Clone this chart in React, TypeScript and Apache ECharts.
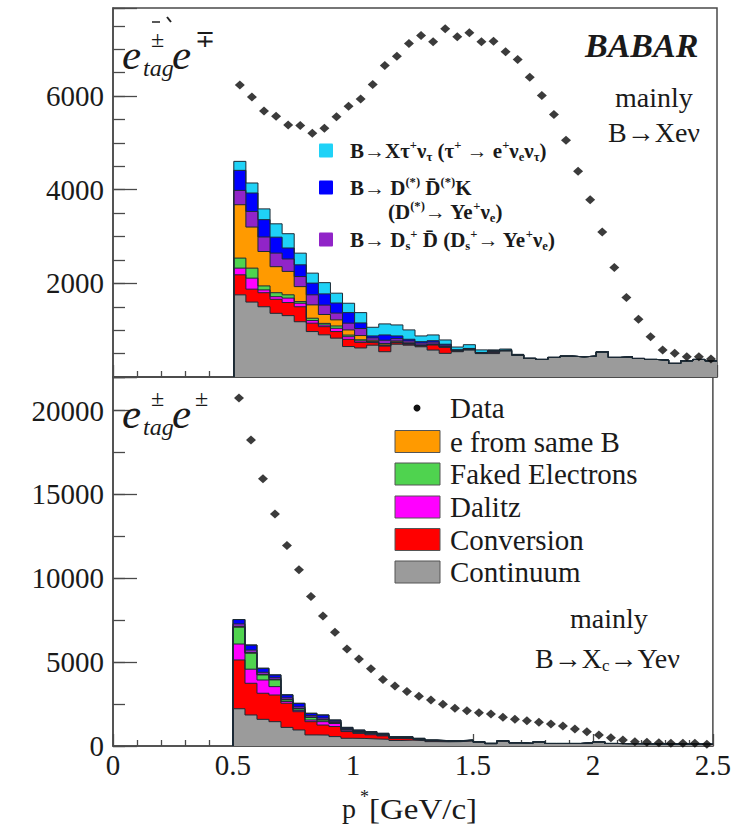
import React, { useEffect, useRef } from 'react';
import * as echarts from 'echarts';

// ---------- data ----------
const binEdges = [0.5, 0.55, 0.6, 0.65, 0.7, 0.75, 0.8, 0.85, 0.9, 0.95, 1.0, 1.05, 1.1, 1.15, 1.2, 1.25, 1.3, 1.35, 1.4, 1.45, 1.5, 1.55, 1.6, 1.65, 1.7, 1.75, 1.8, 1.85, 1.9, 1.95, 2.0, 2.05, 2.1, 2.15, 2.2, 2.25, 2.3, 2.35, 2.4, 2.45, 2.5];
const binWidth = 0.05;

// top panel (e±tag e∓) data points
const topDataPts = [6234, 5979, 5681, 5567, 5383, 5369, 5206, 5312, 5560, 5780, 5935, 6246, 6652, 6851, 7123, 7294, 7159, 7437, 7266, 7352, 7159, 7172, 6945, 6781, 6402, 6011, 5604, 5055, 4392, 3786, 3095, 2338, 1696, 1234, 862, 578, 507, 435, 435, 385];
// bottom panel (e±tag e±) data points
const botDataPts = [20747, 18241, 15932, 13825, 11955, 10505, 8914, 7757, 6782, 5788, 5180, 4600, 3970, 3580, 3242, 2960, 2745, 2486, 2247, 2108, 1989, 1909, 1710, 1591, 1511, 1412, 1313, 1193, 1014, 855, 656, 497, 358, 259, 219, 199, 159, 159, 159, 100];

// top panel stacked components (bottom -> top)
const topContinuum = [1754, 1600, 1500, 1360, 1310, 1180, 970, 900, 830, 650, 620, 680, 540, 700, 680, 645, 575, 505, 540, 575, 500, 500, 555, 465, 395, 375, 418, 445, 432, 445, 537, 418, 432, 396, 375, 360, 290, 346, 375, 346];
const topConversion = [428, 276, 300, 300, 280, 320, 180, 175, 140, 155, 120, 50, 120, 30, 20, 20, 110, 130, 15, 10, 5, 30, 8, 5, 3, 0, 0, 0, 0, 0, 0, 0, 0, 0, 0, 0, 0, 0, 0, 0];
const topDalitz = [143, 235, 60, 55, 95, 75, 55, 35, 70, 55, 30, 15, 15, 10, 10, 5, 5, 5, 5, 5, 3, 3, 2, 0, 0, 0, 0, 0, 0, 0, 0, 0, 0, 0, 0, 0, 0, 0, 0, 0];
const topFaked = [214, 214, 85, 85, 70, 35, 50, 35, 50, 35, 25, 10, 10, 10, 5, 5, 5, 5, 5, 5, 3, 3, 2, 0, 0, 0, 0, 0, 0, 0, 0, 0, 0, 0, 0, 0, 0, 0, 0, 0];
const topSameB = [1140, 877, 735, 556, 500, 320, 285, 190, 130, 110, 90, 30, 30, 20, 15, 10, 10, 5, 5, 5, 3, 3, 2, 0, 0, 0, 0, 0, 0, 0, 0, 0, 0, 0, 0, 0, 0, 0, 0, 0];
const topDsD = [306, 334, 310, 290, 265, 215, 215, 200, 145, 145, 150, 50, 70, 50, 40, 40, 40, 30, 5, 5, 5, 25, 4, 2, 0, 0, 0, 0, 0, 0, 0, 0, 0, 0, 0, 0, 0, 0, 0, 0];
const topDDK = [428, 393, 370, 340, 235, 250, 250, 240, 215, 225, 120, 42, 113, 57, 36, 30, 30, 20, 5, 5, 5, 5, 4, 2, 0, 0, 0, 0, 0, 0, 0, 0, 0, 0, 0, 0, 0, 0, 0, 0];
const topTau = [192, 214, 230, 285, 305, 250, 213, 240, 210, 200, 220, 185, 236, 235, 200, 122, 123, 91, 60, 80, 55, 8, 20, 10, 0, 0, 0, 0, 0, 0, 0, 0, 0, 0, 0, 0, 0, 0, 0, 0];

// bottom panel stacked components (bottom -> top)
const botContinuum = [2220, 1850, 1590, 1450, 1110, 955, 660, 650, 560, 460, 450, 420, 400, 330, 350, 320, 260, 250, 260, 300, 220, 130, 290, 180, 145, 250, 150, 150, 150, 190, 250, 150, 140, 140, 130, 130, 120, 120, 110, 100];
const botConversion = [2910, 1890, 1555, 1590, 1440, 1090, 790, 600, 600, 400, 300, 250, 200, 120, 100, 70, 50, 40, 30, 30, 20, 15, 15, 10, 8, 0, 0, 0, 0, 0, 0, 0, 0, 0, 0, 0, 0, 0, 0, 0];
const botDalitz = [950, 840, 790, 500, 100, 80, 100, 200, 180, 80, 60, 50, 40, 30, 30, 20, 15, 10, 10, 10, 5, 5, 5, 3, 2, 0, 0, 0, 0, 0, 0, 0, 0, 0, 0, 0, 0, 0, 0, 0];
const botFaked = [1000, 950, 300, 400, 100, 90, 150, 100, 60, 50, 40, 40, 30, 20, 20, 15, 10, 5, 5, 5, 5, 3, 3, 2, 2, 0, 0, 0, 0, 0, 0, 0, 0, 0, 0, 0, 0, 0, 0, 0];
const botSameB = [50, 40, 30, 30, 20, 20, 20, 20, 20, 10, 10, 5, 6, 2, 0, 0, 0, 0, 0, 0, 0, 0, 0, 0, 0, 0, 0, 0, 0, 0, 0, 0, 0, 0, 0, 0, 0, 0, 0, 0];
const botDsD = [150, 150, 130, 100, 100, 100, 90, 100, 60, 50, 40, 40, 35, 25, 25, 15, 10, 5, 5, 5, 3, 3, 2, 2, 1, 0, 0, 0, 0, 0, 0, 0, 0, 0, 0, 0, 0, 0, 0, 0];
const botDDK = [260, 300, 240, 170, 180, 210, 140, 180, 70, 60, 50, 50, 45, 30, 32, 18, 13, 8, 8, 8, 6, 3, 3, 2, 1, 0, 0, 0, 0, 0, 0, 0, 0, 0, 0, 0, 0, 0, 0, 0];
const botTau = [0, 0, 0, 0, 0, 0, 0, 0, 0, 0, 0, 0, 0, 0, 0, 0, 0, 0, 0, 0, 0, 0, 0, 0, 0, 0, 0, 0, 0, 0, 0, 0, 0, 0, 0, 0, 0, 0, 0, 0];

const compNames = ['Continuum', 'Conversion', 'Dalitz', 'Faked Electrons', 'e from same B', 'B→Ds D̄', 'B→D(*)D̄(*)K', 'B→Xτν'];
const compColors = ['#9b9b9b', '#ff0000', '#ff00ff', '#4fd34f', '#ff9a00', '#9124c8', '#0000ff', '#1fd2f7'];
const topComps = [topContinuum, topConversion, topDalitz, topFaked, topSameB, topDsD, topDDK, topTau];
const botComps = [botContinuum, botConversion, botDalitz, botFaked, botSameB, botDsD, botDDK, botTau];

const xTicks = [0, 2.5, 0.5];           // min, max, interval
const topYAxis = [0, 7880, 2000, 500];  // min, max, major, minor
const botYAxis = [0, 22000, 5000, 2500];

const bottomLegendIdx = [4, 3, 2, 1, 0];
const topLegendIdx = [7, 6, 5];

const FONT = "'Liberation Serif','Times New Roman',Times,serif";
const TXT = '#1a1a1a';
const AX = '#4a4a4a';

function histData(vals: number[]) {
  const pts: number[][] = [[binEdges[0], 0]];
  vals.forEach((v, i) => pts.push([binEdges[i], v]));
  pts.push([binEdges[binEdges.length - 1], vals[vals.length - 1]]);
  return pts;
}

function txt(x: number, y: number, text: string, fontSize: number, o: any = {}) {
  const style: any = {
    text,
    fontSize,
    fontFamily: FONT,
    fontStyle: o.italic ? 'italic' : 'normal',
    fontWeight: o.bold ? 'bold' : 'normal',
    fill: TXT,
    align: 'left',
    verticalAlign: 'middle',
    textAlign: 'left',
    textVerticalAlign: 'middle',
  };
  if (o.rich) style.rich = o.rich;
  return { type: 'text', x, y, scaleX: o.scaleX || 1, z: 100, style };
}

function richStyles(fs: number, bold: boolean) {
  const base = { fontFamily: FONT, fontWeight: bold ? 'bold' : 'normal', color: TXT, fill: TXT };
  const sfs = Math.round(fs * 0.62);
  return {
    n: { ...base, fontSize: fs, lineHeight: fs + 4 },
    sup: { ...base, fontSize: sfs, lineHeight: sfs + 1, verticalAlign: 'top' },
    sub: { ...base, fontSize: sfs, lineHeight: sfs + 1, verticalAlign: 'bottom' },
  };
}

function yAxes(grid: number, cfg: number[], showZero: boolean) {
  const [min, max, major, minor] = cfg;
  return [
    {
      type: 'value', gridIndex: grid, min, max, interval: major, position: 'left',
      axisLine: { show: true, lineStyle: { color: AX, width: 1.5 } },
      axisTick: { show: true, inside: true, length: 24, lineStyle: { color: AX, width: 1.3 } },
      axisLabel: {
        show: true, margin: 9, fontSize: 29, fontFamily: FONT, color: TXT,
        formatter: (v: number) => (v % major === 0 && (showZero || v > 0) ? String(v) : ''),
      },
      splitLine: { show: false },
    },
    {
      type: 'value', gridIndex: grid, min, max, interval: minor, position: 'left',
      axisLine: { show: false },
      axisTick: { show: true, inside: true, length: 12, lineStyle: { color: AX, width: 1.3 } },
      axisLabel: { show: false },
      splitLine: { show: false },
    },
  ];
}

function xAxis(grid: number, labels: boolean) {
  return {
    type: 'value', gridIndex: grid, min: xTicks[0], max: xTicks[1], interval: xTicks[2],
    axisLine: { show: true, lineStyle: { color: AX, width: 1.5 } },
    axisTick: { show: true, inside: true, length: 12, lineStyle: { color: AX, width: 1.3 } },
    minorTick: { show: true, splitNumber: 5, length: 6, lineStyle: { color: AX, width: 1.3 } },
    axisLabel: labels
      ? { show: true, margin: 4, fontSize: 29, fontFamily: FONT, color: TXT, formatter: (v: number) => String(v) }
      : { show: false },
    splitLine: { show: false },
  };
}

// cumulative layers drawn top-most first, so each lower layer paints over it
function stackSeries(comps: number[][], xi: number, yi: number, tag: string) {
  const cum: number[][] = [];
  comps.forEach((vals, i) => {
    cum.push(vals.map((v, k) => v + (i > 0 ? cum[i - 1][k] : 0)));
  });
  const out: any[] = [];
  for (let i = comps.length - 1; i >= 0; i--) {
    out.push({
      name: compNames[i] + ' ' + tag,
      type: 'line',
      xAxisIndex: xi,
      yAxisIndex: yi,
      step: 'end',
      symbol: 'none',
      showSymbol: false,
      clip: true,
      z: 2,
      lineStyle: { color: '#1c2a35', width: 1 },
      areaStyle: { color: compColors[i], opacity: 1 },
      data: histData(cum[i]),
    });
  }
  return out;
}

function dataSeries(vals: number[], xi: number, yi: number) {
  return {
    name: 'Data',
    type: 'scatter',
    xAxisIndex: xi,
    yAxisIndex: yi,
    symbol: 'diamond',
    symbolSize: [10, 9],
    z: 5,
    itemStyle: { color: '#0a0a0a' },
    data: vals.map((v, i) => [binEdges[i] + binWidth / 2, v]),
  };
}

function buildOption() {
  const graphic: any[] = [];
  const panelLabel = (dy: number, second: string) => {
    graphic.push(txt(122, 54 + dy, 'e', 43, { italic: true }));
    graphic.push(txt(151, 39 + dy, '±', 24));
    graphic.push(txt(143, 68 + dy, 'tag', 24, { italic: true }));
    graphic.push(txt(172, 54 + dy, 'e', 43, { italic: true }));
    graphic.push(txt(195, 39 + dy, second, 24));
  };
  panelLabel(0, '∓');
  panelLabel(359, '±');
  graphic.push({ type: 'line', z: 100, shape: { x1: 152, y1: 22, x2: 160, y2: 22 }, style: { stroke: '#222', lineWidth: 1.5 } });
  graphic.push({ type: 'line', z: 100, shape: { x1: 167, y1: 17, x2: 171, y2: 22 }, style: { stroke: '#222', lineWidth: 2 } });

  graphic.push(txt(585, 45, 'BABAR', 34, { italic: true, bold: true }));
  graphic.push(txt(615, 97, 'mainly', 28));
  graphic.push(txt(608, 132, '{n|B→Xeν}', 28, { rich: richStyles(28, false) }));
  graphic.push(txt(570, 618, 'mainly', 28));
  graphic.push(txt(535, 658, '{n|B→X}{sub|c}{n|→Yeν}', 28, { rich: richStyles(28, false) }));

  // top legend
  const topLegendText = [
    '{n|B→Xτ}{sup|+}{n|ν}{sub|τ}{n| (τ}{sup|+}{n| → e}{sup|+}{n|ν}{sub|e}{n|ν}{sub|τ}{n|)}',
    '{n|B→ D}{sup|(*)}{n| D̄}{sup|(*)}{n|K}',
    '{n|B→ D}{sub|s}{sup|+}{n| D̄ (D}{sub|s}{sup|+}{n|→ Ye}{sup|+}{n|ν}{sub|e}{n|)}',
  ];
  const topLegendY = [151, 188, 240];
  topLegendIdx.forEach((ci, k) => {
    graphic.push({ type: 'rect', z: 100, shape: { x: 319, y: topLegendY[k] - 7.5, width: 14, height: 14, r: 1 }, style: { fill: compColors[ci] } });
    graphic.push(txt(350, topLegendY[k], topLegendText[k], 20, { bold: true, scaleX: 1.05, rich: richStyles(20, true) }));
  });
  graphic.push(txt(388, 212, '{n|(D}{sup|(*)}{n|→ Ye}{sup|+}{n|ν}{sub|e}{n|)}', 20, { bold: true, scaleX: 1.05, rich: richStyles(20, true) }));

  // bottom legend
  graphic.push({ type: 'circle', z: 100, shape: { cx: 417, cy: 408, r: 3.5 }, style: { fill: '#111' } });
  graphic.push(txt(450, 408, 'Data', 29));
  const rowY = [441.5, 474, 507, 539.5, 572];
  bottomLegendIdx.forEach((ci, k) => {
    graphic.push({ type: 'rect', z: 100, shape: { x: 395, y: rowY[k] - 11, width: 45, height: 22 }, style: { fill: compColors[ci], stroke: '#555', lineWidth: 1 } });
    graphic.push(txt(450, rowY[k], compNames[ci], 29));
  });

  // x axis title
  graphic.push(txt(342, 808, 'p', 28));
  graphic.push(txt(360, 797, '*', 18));
  graphic.push(txt(369, 809, '[GeV/c]', 30, { scaleX: 1.1 }));

  return {
    animation: false,
    backgroundColor: '#ffffff',
    grid: [
      { left: 113, top: 8, width: 604, height: 369, show: true, borderColor: AX, borderWidth: 1.5, backgroundColor: 'rgba(0,0,0,0)' },
      { left: 113, top: 377, width: 604, height: 369, show: true, borderColor: AX, borderWidth: 1.5, backgroundColor: 'rgba(0,0,0,0)' },
    ],
    xAxis: [xAxis(0, false), xAxis(1, true)],
    yAxis: [...yAxes(0, topYAxis, false), ...yAxes(1, botYAxis, true)],
    series: [
      ...stackSeries(topComps, 0, 0, 'top'),
      dataSeries(topDataPts, 0, 0),
      ...stackSeries(botComps, 1, 2, 'bot'),
      dataSeries(botDataPts, 1, 2),
    ],
    graphic,
  };
}

export default function App() {
  const ref = useRef<HTMLDivElement>(null);
  useEffect(() => {
    if (!ref.current) return;
    const chart = echarts.init(ref.current, undefined, { renderer: 'svg' });
    chart.setOption(buildOption() as any);
    return () => chart.dispose();
  }, []);
  return (
    <div
      ref={ref}
      style={{ position: 'fixed', left: 0, top: 0, width: 734, height: 825, background: '#fff' }}
    />
  );
}
